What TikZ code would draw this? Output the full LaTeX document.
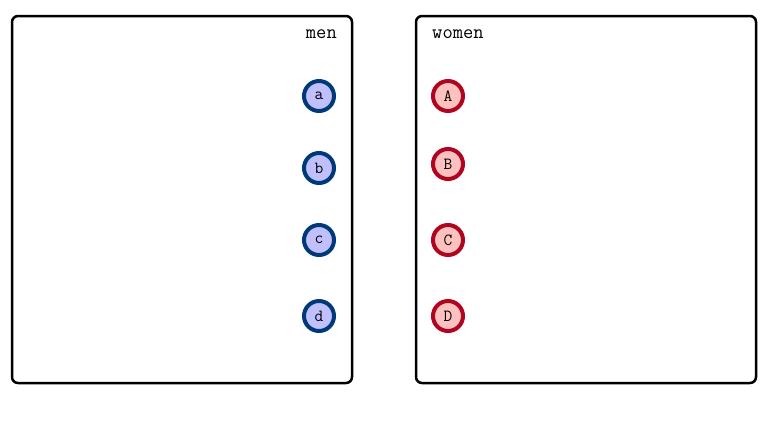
\documentclass[tikz,border=0pt]{standalone}
\usepackage{fontspec}
\usepackage{tikz}
\usetikzlibrary{positioning}
\definecolor{MBlue}{HTML}{00397A}
\definecolor{MFill}{HTML}{C0C0FF}
\definecolor{WRed}{HTML}{B0051F}
\definecolor{WFill}{HTML}{FFC0C0}

\begin{document}
\begin{tikzpicture}[
    x=1pt, y=-1pt,
    group/.style={rectangle, draw, line width=2.5pt, rounded corners=6pt, minimum width=340pt, minimum height=367pt, inner sep=0pt},
    title/.style={font=\ttfamily\fontsize{20}{20}\selectfont, inner sep=0pt},
    man/.style={circle, draw=MBlue, fill=MFill, line width=4pt, minimum size=30pt, inner sep=0pt, font=\ttfamily\fontsize{17}{17}\selectfont},
    woman/.style={circle, draw=WRed, fill=WFill, line width=4pt, minimum size=30pt, inner sep=0pt, font=\ttfamily\fontsize{17}{17}\selectfont}
]
\useasboundingbox (0,0) rectangle (768,432);
\node[group] (menbox) at (182,199.5) {};
\node[group] (womenbox) at (586,199.5) {};

\node[title, anchor=east] (menlbl) at (337,34) {men};
\node[title, anchor=west] (womenlbl) at (432,34) {women};

\node[man] (a) at (319,96) {a};
\node[man] (b) at (319,168) {b};
\node[man] (c) at (319,240) {c};
\node[man] (d) at (319,316) {d};

\node[woman] (A) at (448,96) {A};
\node[woman] (B) at (448,164) {B};
\node[woman] (C) at (448,240) {C};
\node[woman] (D) at (448,316) {D};
\end{tikzpicture}
\end{document}
